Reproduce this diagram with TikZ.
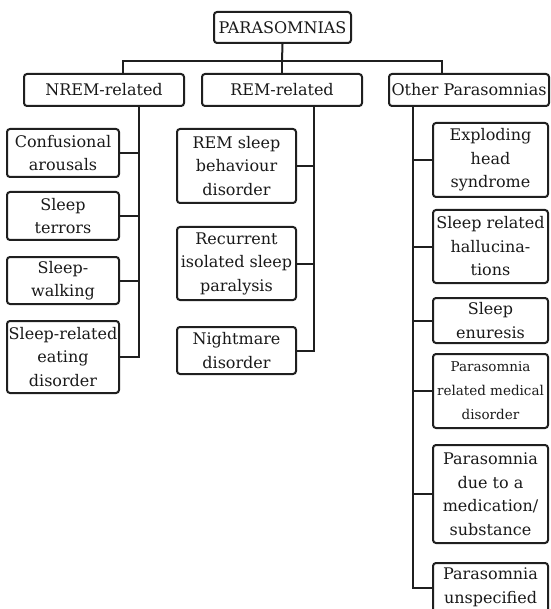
\documentclass[tikz,border=0pt]{standalone}
\usepackage{fontspec}
\setmainfont{DejaVu Serif}
\begin{document}
\begin{tikzpicture}[x=1pt,y=-1pt,
  box/.style={draw=black!88, line width=2pt, rounded corners=3pt, align=center,
    inner sep=1pt, font=\fontsize{16}{23.5}\selectfont, text=black!90},
  smallbox/.style={box, font=\fontsize{13.5}{24}\selectfont},
  wh/.style 2 args={minimum width=#1pt, minimum height=#2pt},
  link/.style={draw=black!88, line width=2pt}]
\useasboundingbox (0,0) rectangle (550,609);
\clip (0,0) rectangle (550,609);

% top levels
\node[box, wh={137}{31}] (root) at (282.5,27.5) {PARASOMNIAS};
\node[box, wh={160}{32}] (nrem) at (104,90) {NREM-related};
\node[box, wh={160}{32}] (rem) at (282,90) {REM-related};
\node[box, wh={160}{32}] (other) at (469,90) {Other Parasomnias};

% NREM children
\node[box, wh={112}{48}] (c1) at (63,153) {Confusional\\arousals};
\node[box, wh={112}{48}] (c2) at (63,216) {Sleep\\terrors};
\node[box, wh={112}{47}] (c3) at (63,280.5) {Sleep-\\walking};
\node[box, wh={112}{72}] (c4) at (63,357) {Sleep-related\\eating\\disorder};

% REM children
\node[box, wh={119}{74}] (r1) at (236.5,166) {REM sleep\\behaviour\\disorder};
\node[box, wh={119}{73}] (r2) at (236.5,263.5) {Recurrent\\isolated sleep\\paralysis};
\node[box, wh={119}{47}] (r3) at (236.5,350.5) {Nightmare\\disorder};

% Other children
\node[box, wh={115}{74}] (o1) at (490.5,160) {Exploding\\head\\syndrome};
\node[box, wh={115}{73}] (o2) at (490.5,246.5) {Sleep related\\hallucina-\\tions};
\node[box, wh={115}{45}] (o3) at (490.5,320.5) {Sleep\\enuresis};
\node[smallbox, wh={115}{74}] (o4) at (490.5,391) {Parasomnia\\related medical\\disorder};
\node[box, wh={115}{98}] (o5) at (490.5,494) {Parasomnia\\due to a\\medication/\\substance};
\node[box, wh={115}{49}] (o6) at (490.5,587.5) {Parasomnia\\unspecified};

% bus
\coordinate (bus) at (282,61);
\coordinate (nd) at (123,74);
\coordinate (od) at (442,74);
\draw[link] (root.south) -- (bus);
\draw[link] (bus) -| (nd);
\draw[link] (bus) -| (od);
\draw[link] (bus) -- (rem.north);

% trunks
\coordinate (nt) at (139,106);
\coordinate (rt) at (314,106);
\coordinate (ot) at (413,106);
\foreach \c in {c1,c2,c3,c4} \draw[link] (nt) |- (\c.east);
\foreach \c in {r1,r2,r3} \draw[link] (rt) |- (\c.east);
\foreach \c in {o1,o2,o3,o4,o5,o6} \draw[link] (ot) |- (\c.west);
\end{tikzpicture}
\end{document}
